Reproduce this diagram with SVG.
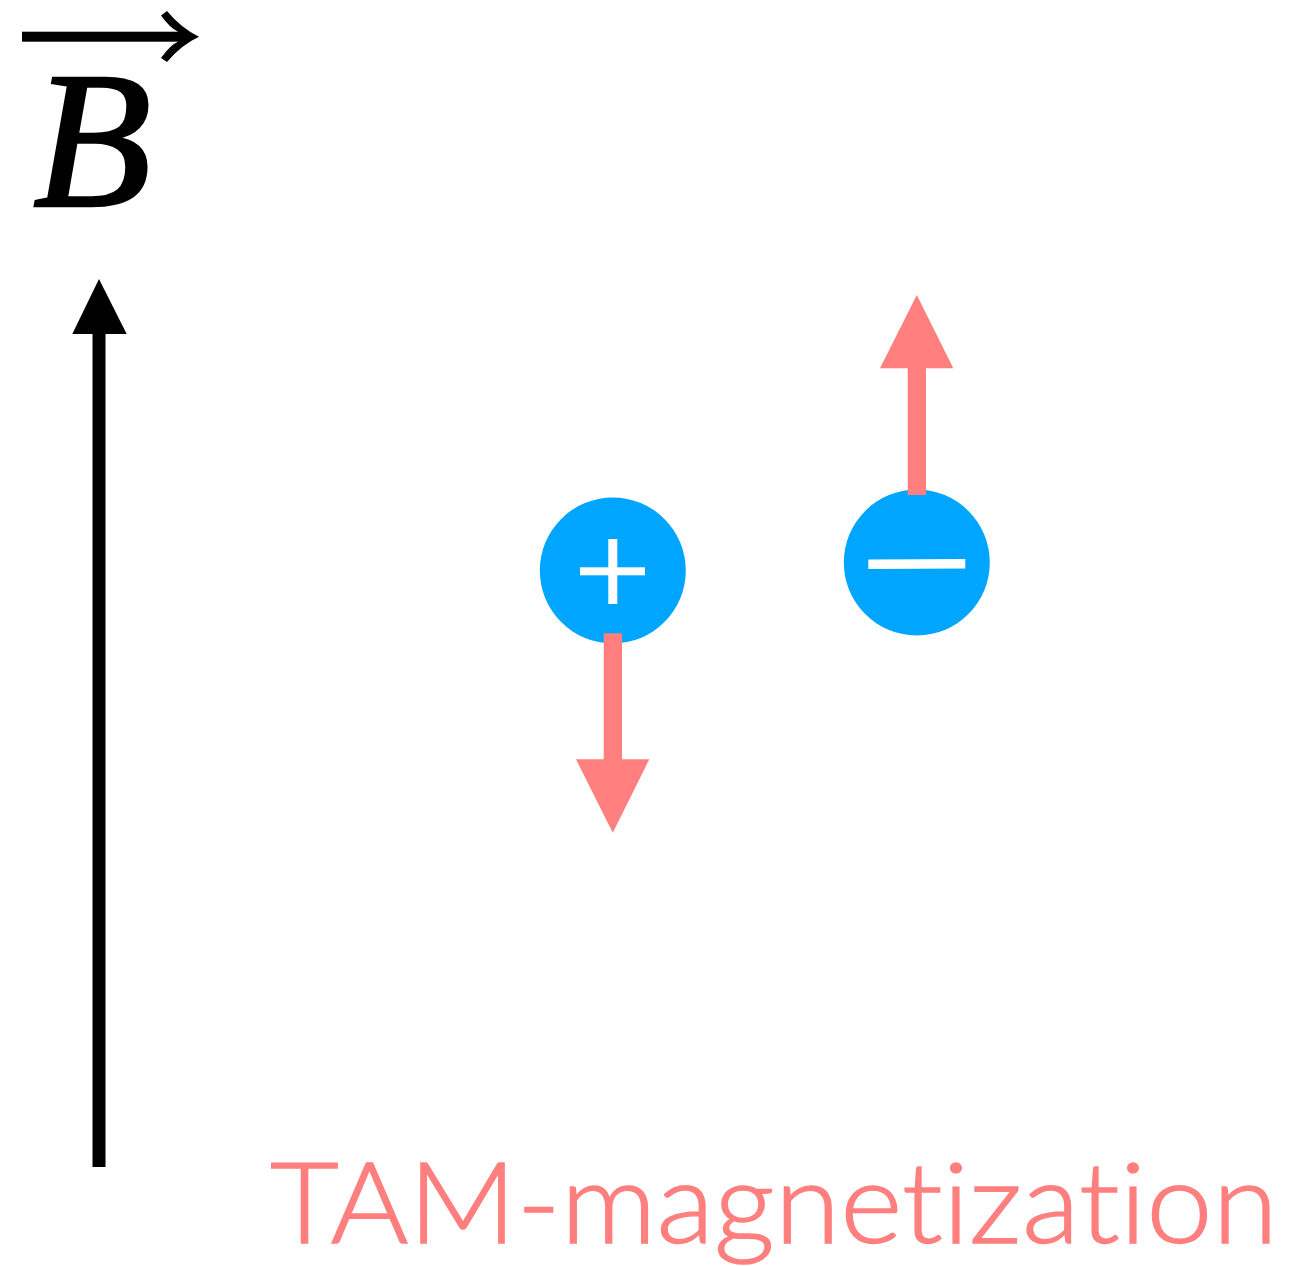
<svg xmlns="http://www.w3.org/2000/svg" width="1296" height="1266" viewBox="0 0 1296 1266">
<style>
.pos{fill:#00A5FF}
.mag{fill:#FF7F7F}
.sym{fill:#FFFFFF}
.cap{font-family:Lato, sans-serif;font-size:113px;font-weight:300;fill:#FF7F7F;stroke:#FF7F7F;stroke-width:1.4px;font-variant-ligatures:none;font-feature-settings:"liga" 0, "clig" 0}
</style>
<rect width="1296" height="1266" fill="#FFFFFF"/>
<g id="label-B">
<rect x="22" y="31.7" width="160" height="10" fill="#000"/>
<path d="M199,36.7 Q181,28 167,11 L161,15.5 Q170,28 178,31.7 L178,41.7 Q170,45 161,58 L167,62 Q181,45 199,36.7 Z" fill="#000"/>
<text x="33" y="206" font-family="Liberation Serif, serif" font-style="italic" font-size="194" fill="#000" stroke="#000" stroke-width="2.5">B</text>
</g>
<g id="connectors">
<g id="B-axis">
<rect x="92.5" y="330" width="13" height="837" fill="#000"/>
<polygon points="99,279 126.7,334 72.3,334" fill="#000"/>
</g>
</g>
<g id="node-plus">
<circle class="pos" cx="612.8" cy="570.5" r="73"/>
<rect class="sym" x="608.3" y="539" width="9" height="65"/>
<rect class="sym" x="580" y="567.3" width="65" height="8"/>
<g id="arrow-plus">
<rect class="mag" x="603.7" y="633.3" width="18.3" height="128"/>
<polygon class="mag" points="576,759.3 649.3,759.3 612.8,832.7"/>
</g>
</g>
<g id="node-minus">
<circle class="pos" cx="916.8" cy="562.5" r="73"/>
<polygon class="sym" points="868.3,559.5 965.3,559 965.3,568.5 868.3,569"/>
<g id="arrow-minus">
<rect class="mag" x="907.7" y="366" width="18.3" height="129"/>
<polygon class="mag" points="880,368.3 953.3,368.3 916.8,295"/>
</g>
</g>
<g id="caption">
<text class="cap" x="270" y="1243" textLength="1008" lengthAdjust="spacingAndGlyphs">TAM-magnetization</text>
</g>
</svg>
